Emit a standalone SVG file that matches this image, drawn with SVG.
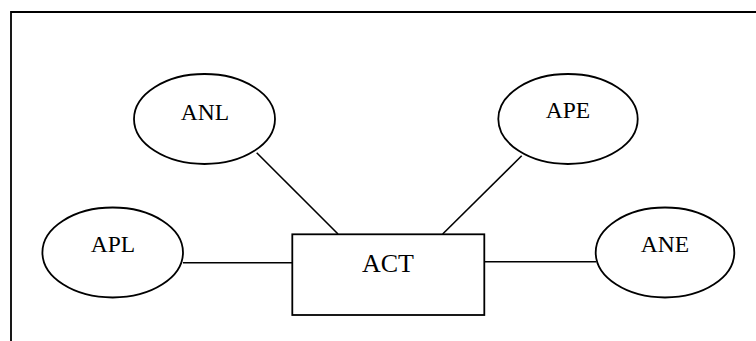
<svg xmlns="http://www.w3.org/2000/svg" width="756" height="341" viewBox="0 0 756 341">
<style>
.shape{fill:#fff;stroke:#000;stroke-width:1.8}
.edge{stroke:#000;stroke-width:1.6;fill:none}
.frame{stroke:#000;stroke-width:1.8;fill:none}
.lbl{font-family:"Liberation Serif","Times New Roman",serif;font-size:23.5px;text-anchor:middle;fill:#000}
</style>
<rect width="756" height="341" fill="#fff"/>
<path class="frame" d="M11,341 V12 H756"/>
<g id="connectors">
<line class="edge" x1="256.7" y1="152.7" x2="338" y2="234"/>
<line class="edge" x1="521.7" y1="155.7" x2="442.7" y2="234"/>
<line class="edge" x1="183" y1="262.7" x2="292" y2="262.7"/>
<line class="edge" x1="484" y1="261.7" x2="596" y2="261.7"/>
</g>
<g id="ACT">
<rect class="shape" x="292.3" y="234.3" width="192" height="80.7"/>
<text class="lbl" x="388" y="272.3" style="font-size:26px">ACT</text>
</g>
<g id="ANL">
<ellipse class="shape" cx="204.5" cy="119" rx="70.5" ry="45"/>
<text class="lbl" x="205" y="120">ANL</text>
</g>
<g id="APE">
<ellipse class="shape" cx="568" cy="119" rx="69.7" ry="45"/>
<text class="lbl" x="568" y="118">APE</text>
</g>
<g id="APL">
<ellipse class="shape" cx="112.7" cy="252.5" rx="70.3" ry="45"/>
<text class="lbl" x="113" y="252.3">APL</text>
</g>
<g id="ANE">
<ellipse class="shape" cx="665" cy="252.5" rx="69.3" ry="45"/>
<text class="lbl" x="665" y="251.7">ANE</text>
</g>
</svg>
